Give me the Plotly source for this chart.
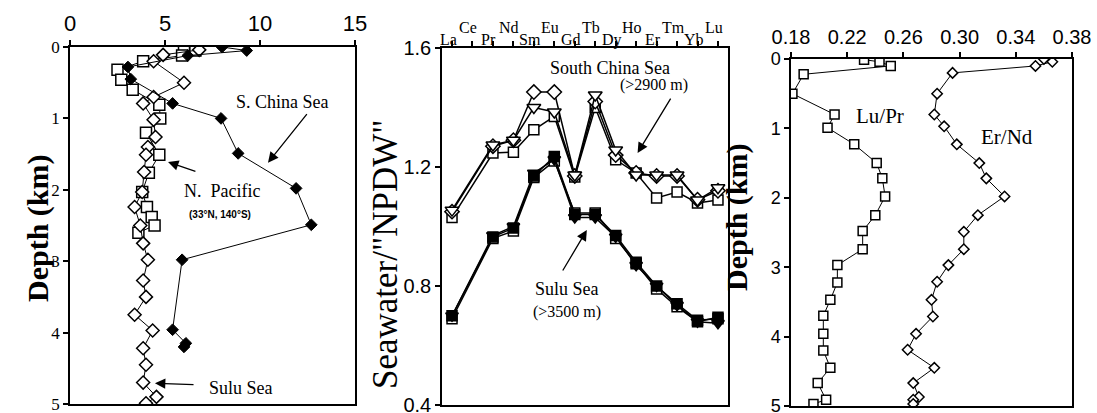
import plotly.graph_objects as go

W, H = 1097, 413

# ---------------- Left panel: depth profiles (x: concentration, y: depth km)
scs_depth = [0.0, 0.05, 0.12, 0.28, 0.45, 0.79, 1.0, 1.49, 1.98, 2.49, 2.98, 3.96, 4.15, 4.2]
scs_val = [8.0, 9.3, 6.2, 3.05, 3.2, 5.4, 7.95, 8.85, 11.9, 12.7, 5.9, 5.4, 6.1, 6.0]

npac_depth = [0.0, 0.05, 0.12, 0.2, 0.32, 0.46, 0.6, 0.81, 1.0, 1.2, 1.51, 1.76, 2.03, 2.24, 2.38, 2.5, 2.6]
npac_val = [6.0, 6.6, 5.9, 3.85, 2.5, 2.7, 3.3, 4.7, 4.75, 4.0, 4.7, 4.15, 3.8, 4.05, 4.3, 4.45, 3.6]

sulu_depth = [0.04, 0.11, 0.2, 0.5, 0.7, 0.79, 1.02, 1.26, 1.4, 1.51, 1.75, 2.03, 2.24, 2.5, 2.75,
              2.98, 3.27, 3.5, 3.75, 3.97, 4.22, 4.45, 4.7, 4.9, 4.99]
sulu_val = [6.8, 4.9, 4.4, 6.0, 4.4, 3.85, 4.4, 4.5, 4.1, 4.0, 3.9, 3.8, 3.4, 3.7, 3.85,
            4.1, 3.85, 4.0, 3.4, 4.35, 3.85, 4.0, 3.85, 4.55, 4.0]

# ---------------- Middle panel: REE patterns normalised to NPDW
ree = ["La", "Ce", "Pr", "Nd", "Sm", "Eu", "Gd", "Tb", "Dy", "Ho", "Er", "Tm", "Yb", "Lu"]
scs_diamond = [1.05, None, 1.27, 1.29, 1.452, 1.452, 1.17, 1.42, 1.24, 1.18, 1.17, 1.17, 1.09, 1.12]
scs_triangle = [1.055, None, 1.274, 1.29, 1.40, 1.385, 1.173, 1.442, 1.257, 1.173, 1.173, 1.173, 1.089, 1.13]
scs_square = [1.03, None, 1.247, 1.25, 1.325, 1.37, 1.166, 1.40, 1.224, 1.18, 1.096, 1.116, 1.079, 1.089]
sulu_fsquare = [0.70, None, 0.965, 0.995, 1.17, 1.235, 1.04, 1.04, 0.97, 0.88, 0.80, 0.74, 0.685, 0.69]
sulu_ftriangle = [0.70, None, 0.97, 1.00, 1.18, 1.225, 1.03, 1.03, 0.965, 0.87, 0.80, 0.735, 0.68, 0.675]
sulu_osquare = [0.69, None, 0.96, 0.985, 1.165, 1.22, 1.045, 1.045, 0.96, 0.875, 0.79, 0.73, 0.68, 0.695]

# ---------------- Right panel: ratio profiles
lupr_depth = [0.01, 0.04, 0.1, 0.22, 0.5, 0.8, 0.99, 1.23, 1.5, 1.72, 1.98, 2.25, 2.48, 2.74, 2.97,
              3.22, 3.47, 3.7, 3.96, 4.2, 4.45, 4.67, 4.91, 4.97]
lupr_val = [0.232, 0.243, 0.251, 0.189, 0.181, 0.211, 0.206, 0.225, 0.241, 0.245, 0.247, 0.240, 0.231,
            0.231, 0.213, 0.213, 0.208, 0.203, 0.203, 0.203, 0.208, 0.199, 0.205, 0.196]
ernd_depth = [0.0, 0.04, 0.1, 0.2, 0.5, 0.8, 0.97, 1.23, 1.5, 1.72, 1.98, 2.25, 2.49, 2.74, 2.97,
              3.21, 3.47, 3.71, 3.96, 4.19, 4.45, 4.67, 4.87, 4.91, 4.97]
ernd_val = [0.360, 0.366, 0.354, 0.295, 0.284, 0.282, 0.289, 0.298, 0.314, 0.319, 0.332, 0.313, 0.303,
            0.303, 0.292, 0.284, 0.280, 0.281, 0.269, 0.263, 0.282, 0.267, 0.271, 0.267, 0.267]

left_xticks = [0, 5, 10, 15]
depth_ticks = [0, 1, 2, 3, 4, 5]
mid_yticks = [0.4, 0.8, 1.2, 1.6]
right_xticks = [0.18, 0.22, 0.26, 0.30, 0.34, 0.38]
right_xticklabels = ["0.18", "0.22", "0.26", "0.30", "0.34", "0.38"]

SERIF = "Liberation Serif"
SANS = "Liberation Sans"
BLACK = "black"

fig = go.Figure()

line_thin = dict(color=BLACK, width=1)

# Left panel traces
fig.add_trace(go.Scatter(x=npac_val, y=npac_depth, mode="lines+markers", line=line_thin,
                         marker=dict(symbol="square", size=11, color="white", line=dict(color=BLACK, width=1.5)),
                         xaxis="x", yaxis="y", showlegend=False))
fig.add_trace(go.Scatter(x=sulu_val, y=sulu_depth, mode="lines+markers", line=line_thin,
                         marker=dict(symbol="diamond", size=10, color="white", line=dict(color=BLACK, width=1.5)),
                         xaxis="x", yaxis="y", showlegend=False))
fig.add_trace(go.Scatter(x=scs_val, y=scs_depth, mode="lines+markers", line=line_thin,
                         marker=dict(symbol="diamond", size=9, color=BLACK, line=dict(color=BLACK, width=1)),
                         xaxis="x", yaxis="y", showlegend=False))

# Middle panel traces
xi = list(range(len(ree)))
mid_series = [
    (scs_square, "square", 10, "white"),
    (scs_diamond, "diamond", 11, "white"),
    (scs_triangle, "triangle-down", 12, "white"),
    (sulu_osquare, "square", 10, "white"),
    (sulu_ftriangle, "triangle-down", 11, BLACK),
    (sulu_fsquare, "square", 10, BLACK),
]
for vals, sym, sz, fill in mid_series:
    fig.add_trace(go.Scatter(x=xi, y=vals, mode="lines+markers", connectgaps=True,
                             line=dict(color=BLACK, width=1.5),
                             marker=dict(symbol=sym, size=sz, color=fill, line=dict(color=BLACK, width=1.5)),
                             xaxis="x2", yaxis="y2", showlegend=False))

# Right panel traces
fig.add_trace(go.Scatter(x=lupr_val, y=lupr_depth, mode="lines+markers", line=line_thin,
                         marker=dict(symbol="square", size=9, color="white", line=dict(color=BLACK, width=1.5)),
                         xaxis="x3", yaxis="y3", showlegend=False))
fig.add_trace(go.Scatter(x=ernd_val, y=ernd_depth, mode="lines+markers", line=line_thin,
                         marker=dict(symbol="diamond", size=8, color="white", line=dict(color=BLACK, width=1.5)),
                         xaxis="x3", yaxis="y3", showlegend=False))


def dom_x(a, b):
    return [a / W, b / W]


def dom_y(top, bottom):
    return [1 - bottom / H, 1 - top / H]


axis_common = dict(showline=True, linecolor=BLACK, linewidth=1.5, mirror=True, ticks="outside",
                   tickcolor=BLACK, ticklen=5, tickwidth=1.5, showgrid=False, zeroline=False,
                   automargin=False, ticklabeloverflow="allow")

fig.update_layout(
    width=W, height=H,
    margin=dict(l=0, r=0, t=0, b=0, autoexpand=False),
    paper_bgcolor="white", plot_bgcolor="white",
    font=dict(family=SERIF, color=BLACK),
    xaxis=dict(domain=dom_x(70, 355), range=[0, 15], side="top", anchor="y",
               tickvals=left_xticks, tickfont=dict(family=SANS, size=22), **axis_common),
    yaxis=dict(domain=dom_y(47, 404), range=[5, 0], anchor="x",
               tickvals=depth_ticks, tickfont=dict(family=SERIF, size=17), **axis_common),
    xaxis2=dict(domain=dom_x(442, 728), range=[-0.49, 13.49], side="top", anchor="y2",
                tickvals=xi, showticklabels=False, **axis_common),
    yaxis2=dict(domain=dom_y(48, 405), range=[0.4, 1.6], anchor="x2",
                tickvals=mid_yticks, ticktext=["0.4", "0.8", "1.2", "1.6"],
                tickfont=dict(family=SANS, size=20), **axis_common),
    xaxis3=dict(domain=dom_x(791, 1072), range=[0.18, 0.38], side="top", anchor="y3",
                tickvals=right_xticks, ticktext=right_xticklabels,
                tickfont=dict(family="Liberation Sans Narrow, " + SANS, size=20), **axis_common),
    yaxis3=dict(domain=dom_y(59, 406), range=[5, 0], anchor="x3",
                tickvals=depth_ticks, tickfont=dict(family=SANS, size=18), **axis_common),
)

ann = []
# REE element labels (staggered)
for i, el in enumerate(ree):
    lower = (i % 2 == 0)
    ann.append(dict(x=i, y=1 - (29 if lower else 17) / H, xref="x2", yref="paper", text=el,
                    showarrow=False, xshift=-4, font=dict(family=SERIF, size=16)))

# axis titles
ann.append(dict(x=19 / W, y=1 - 228 / H, xref="paper", yref="paper", text="<b>Depth (km)</b>",
                textangle=-90, showarrow=False, font=dict(family=SERIF, size=30)))
ann.append(dict(x=385 / W, y=1 - 254 / H, xref="paper", yref="paper", text='Seawater/"NPDW"',
                textangle=-90, showarrow=False, font=dict(family=SERIF, size=35)))
ann.append(dict(x=756 / W, y=1 - 217 / H, xref="paper", yref="paper", text="<b>Depth (km)</b>",
                textangle=-90, showarrow=False, font=dict(family=SERIF, size=30)))

# left panel labels
ann += [
    dict(x=11.2, y=0.77, xref="x", yref="y", text="S. China Sea", showarrow=False, font=dict(size=18)),
    dict(x=10.42, y=1.62, ax=12.53, ay=0.92, xref="x", yref="y", axref="x", ayref="y", text="",
         showarrow=True, arrowhead=2, arrowsize=1.6, arrowwidth=1.3, arrowcolor=BLACK),
    dict(x=8.0, y=2.02, xref="x", yref="y", text="N.  Pacific", showarrow=False, font=dict(size=18)),
    dict(x=7.9, y=2.34, xref="x", yref="y", text="<b>(33°N, 140°S)</b>", showarrow=False,
         font=dict(family=SANS, size=10)),
    dict(x=5.16, y=1.61, ax=6.68, ay=1.75, xref="x", yref="y", axref="x", ayref="y", text="",
         showarrow=True, arrowhead=2, arrowsize=1.6, arrowwidth=1.3, arrowcolor=BLACK),
    dict(x=9.0, y=4.78, xref="x", yref="y", text="Sulu Sea", showarrow=False, font=dict(size=18)),
    dict(x=4.47, y=4.71, ax=6.58, ay=4.73, xref="x", yref="y", axref="x", ayref="y", text="",
         showarrow=True, arrowhead=2, arrowsize=1.6, arrowwidth=1.3, arrowcolor=BLACK),
]
# middle panel labels
ann += [
    dict(x=7.7, y=1.533, xref="x2", yref="y2", text="South China Sea", showarrow=False, font=dict(size=18)),
    dict(x=9.85, y=1.476, xref="x2", yref="y2", text="(>2900 m)", showarrow=False, font=dict(size=16)),
    dict(x=9.07, y=1.247, ax=10.73, ay=1.435, xref="x2", yref="y2", axref="x2", ayref="y2", text="",
         showarrow=True, arrowhead=2, arrowsize=1.6, arrowwidth=1.3, arrowcolor=BLACK),
    dict(x=5.6, y=0.79, xref="x2", yref="y2", text="Sulu Sea", showarrow=False, font=dict(size=18)),
    dict(x=5.6, y=0.713, xref="x2", yref="y2", text="(>3500 m)", showarrow=False, font=dict(size=16)),
    dict(x=6.59, y=0.988, ax=5.37, ay=0.847, xref="x2", yref="y2", axref="x2", ayref="y2", text="",
         showarrow=True, arrowhead=2, arrowsize=1.6, arrowwidth=1.3, arrowcolor=BLACK),
]
# right panel labels
ann += [
    dict(x=0.2433, y=0.82, xref="x3", yref="y3", text="Lu/Pr", showarrow=False, font=dict(size=21)),
    dict(x=0.3337, y=1.12, xref="x3", yref="y3", text="Er/Nd", showarrow=False, font=dict(size=21)),
]

fig.update_layout(annotations=ann)
fig.write_html("out.html", config={"displayModeBar": False},
               post_script="document.body.style.margin='0';document.body.style.overflow='hidden';")
